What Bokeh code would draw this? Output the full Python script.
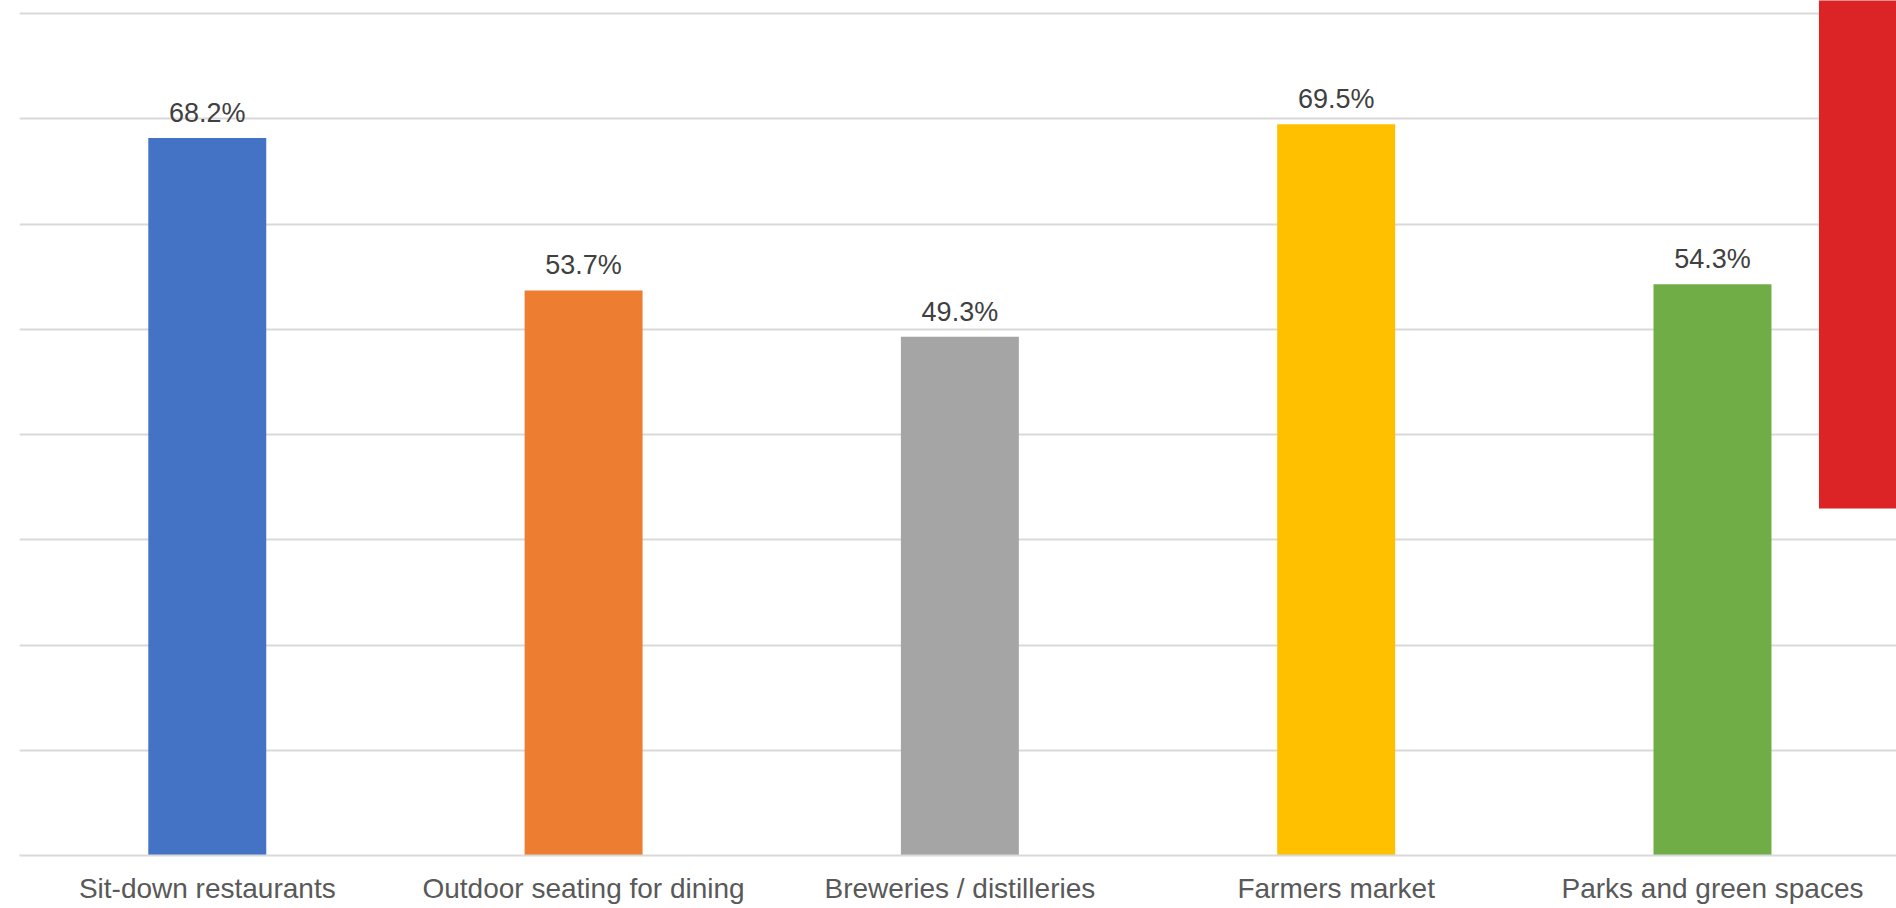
from bokeh.plotting import figure
from bokeh.models import FixedTicker, Range1d, ColumnDataSource
from bokeh.core.properties import value
from bokeh.embed import file_html
from bokeh.resources import INLINE

categories = ["Sit-down restaurants", "Outdoor seating for dining",
              "Breweries / distilleries", "Farmers market", "Parks and green spaces"]
values = [68.2, 53.7, 49.3, 69.5, 54.3]
colors = ["#4472C4", "#ED7D31", "#A5A5A5", "#FFC000", "#70AD47"]
y_ticks = [0, 10, 20, 30, 40, 50, 60, 70, 80]

# overlay panel at right edge (partially visible legend box)
panel_left = 5.283
panel_bottom = 32.98
panel_color = "#DC2326"

W, H = 1896, 908
xs = list(range(1, len(categories) + 1))
x_start = 0.501
x_end = x_start + 4.988
y_end = 81.26

p = figure(width=W, height=H, output_backend="svg", toolbar_location=None,
           x_range=Range1d(x_start, x_end), y_range=Range1d(0, y_end),
           min_border_left=19, min_border_right=0, min_border_top=0,
           min_border_bottom=53)
p.background_fill_color = "white"
p.border_fill_color = "white"
p.outline_line_color = None

src = ColumnDataSource(dict(x=xs, top=values, color=colors,
                            label=[f"{v:.1f}%" for v in values]))
p.vbar(x="x", top="top", width=0.3135, bottom=0, color="color", source=src, line_color=None)
p.text(x="x", y="top", text="label", source=src, text_align="center",
       text_baseline="alphabetic", y_offset=-25, text_color="#404040",
       text_font=value("Liberation Sans"), text_font_size="27px")

p.quad(left=[panel_left], right=[x_end + 1], bottom=[panel_bottom], top=[y_end + 1],
       color=panel_color, line_color=None)

p.yaxis.visible = False
p.xgrid.visible = False
p.ygrid.ticker = FixedTicker(ticks=y_ticks)
p.ygrid.grid_line_color = "#D9D9D9"
p.ygrid.grid_line_width = 2

ax = p.xaxis[0]
ax.ticker = FixedTicker(ticks=xs)
ax.major_label_overrides = {x: c for x, c in zip(xs, categories)}
ax.major_tick_line_color = None
ax.minor_tick_line_color = None
ax.axis_line_color = "#D9D9D9"
ax.axis_line_width = 2
ax.major_label_standoff = 11
ax.major_label_text_font = "Liberation Sans"
ax.major_label_text_font_size = "28px"
ax.major_label_text_color = "#595959"

open("out.html", "w").write(file_html(p, INLINE))
